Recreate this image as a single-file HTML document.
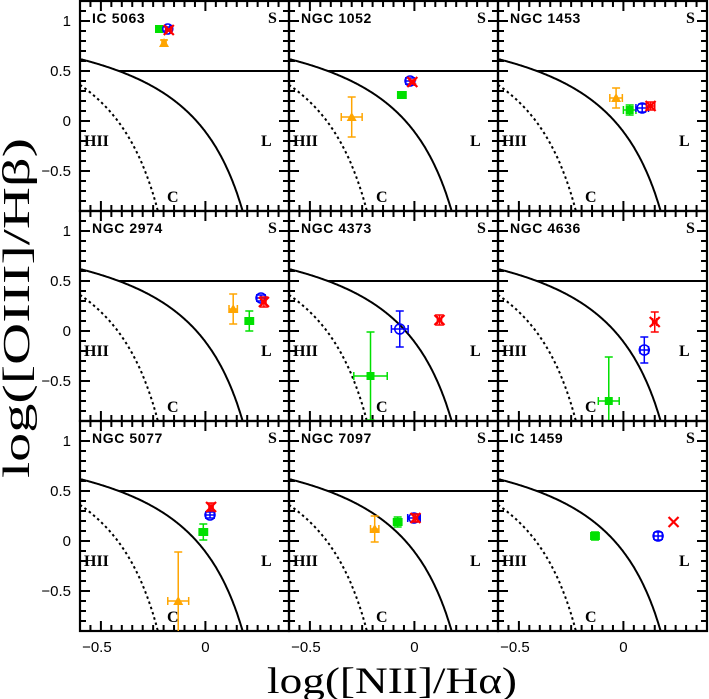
<!DOCTYPE html>
<html><head><meta charset="utf-8"><style>
html,body{margin:0;padding:0;background:#fff;}
svg{display:block;}
.t{font-family:"Liberation Sans",sans-serif;}
.s{font-family:"Liberation Serif",serif;}
</style></head><body>
<svg id="chart" width="709" height="699" viewBox="0 0 709 699" xmlns="http://www.w3.org/2000/svg">
<text class="s" x="29" y="308" font-size="38" text-anchor="middle" textLength="340" lengthAdjust="spacingAndGlyphs" transform="rotate(-90 29 308)">log([OIII]/Hβ)</text>
<text class="s" x="392" y="693" font-size="37" text-anchor="middle" textLength="250" lengthAdjust="spacingAndGlyphs">log([NII]/Hα)</text>
<g id="panels"></g>
</svg>
<script>
const panelNames = ["IC 5063","NGC 1052","NGC 1453","NGC 2974","NGC 4373","NGC 4636","NGC 5077","NGC 7097","IC 1459"];
const xTickLabels = ["−0.5","0"];
const xTickValues = [-0.5, 0];
const yTickLabels = ["1","0.5","0","−0.5"];
const yTickValues = [1, 0.5, 0, -0.5];
const orangeX = [-0.198,-0.30,-0.035,0.133,null,null,-0.13,-0.19,null];
const orangeY = [0.78,0.04,0.23,0.22,null,null,-0.6,0.12,null];
const orangeXerr = [0.01,0.05,0.03,0.02,null,null,0.05,0.02,null];
const orangeYerr = [0.03,0.2,0.1,0.15,null,null,0.49,0.13,null];
const greenX = [-0.222,-0.06,0.03,0.21,-0.21,-0.07,-0.01,-0.08,-0.136];
const greenY = [0.92,0.26,0.11,0.10,-0.45,-0.70,0.09,0.19,0.05];
const greenXerr = [0.01,0.02,0.03,0.02,0.08,0.05,0.02,0.02,0.02];
const greenYerr = [0.02,0.03,0.05,0.1,0.44,0.44,0.08,0.05,0.04];
const blueX = [-0.18,-0.021,0.09,0.266,-0.07,0.10,0.022,-0.002,0.166];
const blueY = [0.92,0.40,0.13,0.33,0.02,-0.19,0.26,0.23,0.05];
const blueXerr = [0.01,0.02,0.03,0.02,0.04,0.02,0.02,0.03,0.02];
const blueYerr = [0.02,0.03,0.04,0.03,0.18,0.13,0.03,0.04,0.04];
const redX = [-0.175,-0.01,0.13,0.28,0.12,0.15,0.027,0.005,0.24];
const redY = [0.91,0.39,0.15,0.29,0.11,0.09,0.34,0.23,0.19];
const redXerr = [0.01,0.01,0.02,0.01,0.01,0.01,0.01,0.01,0];
const redYerr = [0.01,0.02,0.04,0.05,0.05,0.1,0.04,0.04,0];

const NS="http://www.w3.org/2000/svg";
const X0=-0.6,X1=0.4,Y0=-0.9,Y1=1.2,PW=209,PH=210,L0=80,T0=1;
const root=document.getElementById('panels');
function mk(tag,attrs,parent){const e=document.createElementNS(NS,tag);for(const k in attrs)e.setAttribute(k,attrs[k]);(parent||root).appendChild(e);return e;}

for(let p=0;p<9;p++){
  const col=p%3,row=Math.floor(p/3);
  const left=L0+col*PW,top=T0+row*PH;
  const sx=v=>left+(v-X0)/(X1-X0)*PW;
  const sy=v=>top+(Y1-v)/(Y1-Y0)*PH;
  const g=mk('g',{});
  
  
  const cp=mk('clipPath',{id:'c'+p},g);
  mk('rect',{x:left,y:top,width:PW,height:PH},cp);
  let d='';
  for(let i=0;i<=20;i++){const v=X0+i*0.05;const x=sx(v);const maj=Math.abs(v*2-Math.round(v*2))<1e-6;const l=maj?10:6;d+=`M${x} ${top+PH}v${-l}M${x} ${top}v${l}`;}
  for(let i=0;i<=21;i++){const v=Y0+i*0.1;const y=sy(v);const maj=Math.abs(v*2-Math.round(v*2))<1e-6;const l=maj?10:6;d+=`M${left} ${y}h${l}M${left+PW} ${y}h${-l}`;}
  const tk=mk('path',{d:d,stroke:'#000','stroke-width':2,fill:'none'},g);
  
  
  const cg=mk('g',{'clip-path':`url(#c${p})`},g);
  let kd='',kf='';
  for(let x=X0;x<0.47;x+=0.005){const y=0.61/(x-0.47)+1.19;if(y<Y0-0.1)break;kd+=(kd?'L':'M')+sx(x).toFixed(1)+' '+sy(y).toFixed(1);}
  for(let x=X0;x<0.05;x+=0.005){const y=0.61/(x-0.05)+1.3;if(y<Y0-0.1)break;kf+=(kf?'L':'M')+sx(x).toFixed(1)+' '+sy(y).toFixed(1);}
  const k1=mk('path',{d:kd,stroke:'#000','stroke-width':2,fill:'none'},cg);
  
  
  const k2=mk('path',{d:kf,stroke:'#000','stroke-width':2,fill:'none','stroke-dasharray':'2.5,3'},cg);
  
  
  const hl=mk('line',{x1:sx(0.47-0.61/0.69),x2:sx(X1),y1:sy(0.5),y2:sy(0.5),stroke:'#000','stroke-width':2},cg);
  
  
  const br=mk('rect',{x:left,y:top,width:PW,height:PH,fill:'none',stroke:'#000','stroke-width':2.2},g);
  
  
  const nm=mk('text',{x:left+12,y:top+22,'font-size':14,'font-weight':'bold',class:'t','letter-spacing':'0.6'},g);nm.textContent=panelNames[p];
  
  
  const lab=[['S',left+188,top+22],['HII',left+4,top+145],['L',left+181,top+145],['C',left+87,top+201]];
  for(const [t,x,y] of lab){const e=mk('text',{x:x,y:y,'font-size':16,class:'s','font-weight':'bold'},g);e.textContent=t;
    
    }
  if(row===2){for(let i=0;i<xTickValues.length;i++){const e=mk('text',{x:sx(xTickValues[i])+(i==0?-4:0),y:top+PH+21,'font-size':15,'text-anchor':'middle',class:'t'},g);e.textContent=xTickLabels[i];
    
    }}
  if(col===0){for(let i=0;i<yTickValues.length;i++){const e=mk('text',{x:left-9,y:sy(yTickValues[i])+5,'font-size':15,'text-anchor':'end',class:'t'},g);e.textContent=yTickLabels[i];
    
    }}
  const series=[
    ['orange',orangeX,orangeY,orangeXerr,orangeYerr,'#ffa500','tri'],
    ['green',greenX,greenY,greenXerr,greenYerr,'#00e000','sq'],
    ['blue',blueX,blueY,blueXerr,blueYerr,'#0000ff','circ'],
    ['red',redX,redY,redXerr,redYerr,'#ff0000','x']];
  for(const [nmS,XS,YS,XE,YE,c,m] of series){
    if(XS[p]===null)continue;
    const pg=mk('g',{'clip-path':`url(#c${p})`},g);
    
    
    const x=sx(XS[p]),y=sy(YS[p]);
    const x1=sx(XS[p]-XE[p]),x2=sx(XS[p]+XE[p]),y1=sy(YS[p]+YE[p]),y2=sy(YS[p]-YE[p]);
    if(XE[p]>0||YE[p]>0){
      mk('path',{d:`M${x1} ${y}H${x2}M${x1} ${y-4}v8M${x2} ${y-4}v8M${x} ${y1}V${y2}M${x-4} ${y1}h8M${x-4} ${y2}h8`,stroke:c,'stroke-width':1.5,fill:'none'},pg);
    }
    if(m==='tri')mk('path',{d:`M${x} ${y-5}L${x+5} ${y+4}L${x-5} ${y+4}Z`,fill:c},pg);
    else if(m==='sq')mk('rect',{x:x-4,y:y-4,width:8,height:8,fill:c},pg);
    else if(m==='circ')mk('circle',{cx:x,cy:y,r:5,fill:'none',stroke:c,'stroke-width':1.5},pg);
    else mk('path',{d:`M${x-5} ${y-5}L${x+5} ${y+5}M${x+5} ${y-5}L${x-5} ${y+5}`,stroke:c,'stroke-width':2.2},pg);
  }
}
</script>
</body></html>
